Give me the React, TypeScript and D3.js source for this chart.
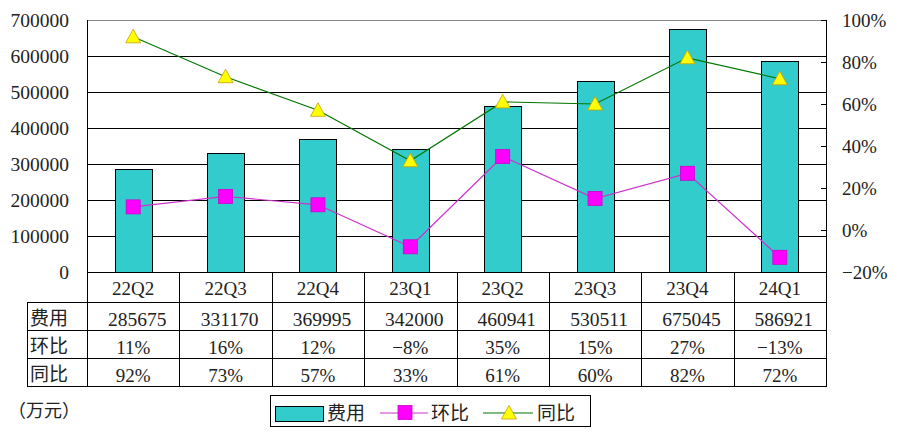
import React from "react";
import * as d3 from "d3";

const categories = ["22Q2", "22Q3", "22Q4", "23Q1", "23Q2", "23Q3", "23Q4", "24Q1"];
const costValues = [285675, 331170, 369995, 342000, 460941, 530511, 675045, 586921];
const qoqValues = [11, 16, 12, -8, 35, 15, 27, -13];
const yoyValues = [92, 73, 57, 33, 61, 60, 82, 72];
const leftTicks = [0, 100000, 200000, 300000, 400000, 500000, 600000, 700000];
const rightTicks = [-20, 0, 20, 40, 60, 80, 100];
const rowLabels = ["费用", "环比", "同比"];
const seriesNames = ["费用", "环比", "同比"];
const unitLabel = "（万元）";

const W = 902;
const H = 438;
const L = 87;
const R = 826;
const T = 20;
const B = 272;
const tableLeft = 27;
const rowYs = [272, 302, 330, 358, 386];

const FONT = "'Liberation Serif', 'Noto Sans CJK SC', serif";
const CJK = "'Noto Sans CJK SC', sans-serif";

const BAR = "#33CCCC";
const MAG = "#FF00FF";
const MAGLINE = "#CC33CC";
const GREEN = "#007700";
const YEL = "#FFFF00";

export default function App() {
  const x = d3.scaleBand<string>().domain(categories).range([L, R]).padding(0);
  const yL = d3.scaleLinear().domain([0, 700000]).range([B, T]);
  const yR = d3.scaleLinear().domain([-20, 100]).range([B, T]);
  const bw = x.bandwidth() * 0.4;
  const cx = (c: string) => (x(c) as number) + x.bandwidth() / 2;

  const qoqLine = d3
    .line<number>()
    .x((_, i) => cx(categories[i]))
    .y((d) => yR(d))(qoqValues) as string;
  const yoyLine = d3
    .line<number>()
    .x((_, i) => cx(categories[i]))
    .y((d) => yR(d))(yoyValues) as string;

  const tri = (px: number, py: number, s = 7.5) =>
    `M${px},${py - s} L${px + s},${py + s * 0.8} L${px - s},${py + s * 0.8} Z`;

  const fmtPct = (v: number) => (v < 0 ? "−" + Math.abs(v) : String(v)) + "%";

  return (
    <svg
      width={W}
      height={H}
      style={{ position: "absolute", left: 0, top: 0, background: "#fff" }}
    >
      {/* gridlines */}
      {leftTicks.map((t) => (
        <line
          key={"g" + t}
          x1={L}
          x2={R}
          y1={Math.round(yL(t)) + 0.5}
          y2={Math.round(yL(t)) + 0.5}
          stroke={t === 700000 ? "#888" : "#000"}
          strokeWidth={1}
        />
      ))}
      {/* left axis labels */}
      {leftTicks.map((t) => (
        <text
          key={"l" + t}
          x={69}
          y={yL(t)}
          dy="0.35em"
          textAnchor="end"
          fontFamily={FONT}
          fontSize={19.5}
          fill="#222"
        >
          {t}
        </text>
      ))}
      {/* bars */}
      {costValues.map((v, i) => (
        <rect
          key={"b" + i}
          x={Math.round(cx(categories[i]) - bw / 2) + 0.5}
          y={Math.round(yL(v)) + 0.5}
          width={Math.round(bw)}
          height={Math.round(yL(0) - yL(v))}
          fill={BAR}
          stroke="#000"
          strokeWidth={1}
        />
      ))}
      {/* axes lines */}
      <line x1={L + 0.5} x2={L + 0.5} y1={T} y2={rowYs[4]} stroke="#000" />
      <line x1={R + 0.5} x2={R + 0.5} y1={T} y2={rowYs[4]} stroke="#000" />
      {/* right axis ticks and labels */}
      {rightTicks.map((t) => (
        <g key={"r" + t}>
          <line
            x1={R - 5}
            x2={R}
            y1={Math.round(yR(t)) + 0.5}
            y2={Math.round(yR(t)) + 0.5}
            stroke="#000"
          />
          <text
            x={842}
            y={yR(t)}
            dy="0.35em"
            fontFamily={FONT}
            fontSize={19}
            fill="#222"
          >
            {fmtPct(t)}
          </text>
        </g>
      ))}
      {/* lines */}
      <path d={qoqLine} fill="none" stroke={MAGLINE} strokeWidth={1.2} />
      <path d={yoyLine} fill="none" stroke={GREEN} strokeWidth={1.2} />
      {qoqValues.map((v, i) => (
        <rect
          key={"q" + i}
          x={cx(categories[i]) - 7}
          y={yR(v) - 7}
          width={14}
          height={14}
          fill={MAG}
          stroke="#CC00CC"
          strokeWidth={0.8}
        />
      ))}
      {yoyValues.map((v, i) => (
        <path
          key={"y" + i}
          d={tri(cx(categories[i]), yR(v))}
          fill={YEL}
          stroke="#C8A000"
          strokeWidth={0.8}
        />
      ))}
      {/* table */}
      {rowYs.slice(1).map((ry) => (
        <line
          key={"h" + ry}
          x1={tableLeft}
          x2={R + 1}
          y1={ry + 0.5}
          y2={ry + 0.5}
          stroke="#000"
        />
      ))}
      <line x1={tableLeft + 0.5} x2={tableLeft + 0.5} y1={rowYs[1]} y2={rowYs[4] + 1} stroke="#000" />
      {categories.slice(1).map((c) => (
        <line
          key={"v" + c}
          x1={Math.round(x(c) as number) + 0.5}
          x2={Math.round(x(c) as number) + 0.5}
          y1={rowYs[0]}
          y2={rowYs[4]}
          stroke="#000"
        />
      ))}
      {categories.map((c) => (
        <text
          key={"c" + c}
          x={cx(c)}
          y={(rowYs[0] + rowYs[1]) / 2 + 1}
          dy="0.35em"
          textAnchor="middle"
          fontFamily={FONT}
          fontSize={19}
          fill="#222"
        >
          {c}
        </text>
      ))}
      {rowLabels.map((r, j) => (
        <text
          key={"rl" + r}
          x={30}
          y={(rowYs[j + 1] + rowYs[j + 2]) / 2 + 2}
          dy="0.35em"
          fontFamily={CJK}
          fontSize={19}
          fill="#222"
        >
          {r}
        </text>
      ))}
      {categories.map((c, i) => (
        <g key={"t" + c}>
          <text
            x={cx(c) + 4}
            y={(rowYs[1] + rowYs[2]) / 2 + 3}
            dy="0.35em"
            textAnchor="middle"
            fontFamily={FONT}
            fontSize={19.5}
            fill="#222"
          >
            {costValues[i]}
          </text>
          <text
            x={cx(c)}
            y={(rowYs[2] + rowYs[3]) / 2 + 3}
            dy="0.35em"
            textAnchor="middle"
            fontFamily={FONT}
            fontSize={19}
            fill="#222"
          >
            {fmtPct(qoqValues[i])}
          </text>
          <text
            x={cx(c)}
            y={(rowYs[3] + rowYs[4]) / 2 + 3}
            dy="0.35em"
            textAnchor="middle"
            fontFamily={FONT}
            fontSize={19}
            fill="#222"
          >
            {fmtPct(yoyValues[i])}
          </text>
        </g>
      ))}
      {/* unit label */}
      <text x={8} y={411} dy="0.35em" fontFamily={CJK} fontSize={18} fill="#222">
        {unitLabel}
      </text>
      {/* legend */}
      <rect x={270.5} y={395.5} width={320} height={31} fill="#fff" stroke="#000" />
      <rect x={275.5} y={406.5} width={48} height={15} fill={BAR} stroke="#000" />
      <text x={327} y={413} dy="0.35em" fontFamily={CJK} fontSize={19} fill="#222">
        {seriesNames[0]}
      </text>
      <line x1={380} x2={428} y1={413} y2={413} stroke={MAGLINE} strokeWidth={1.2} />
      <rect x={398} y={405.5} width={14} height={14} fill={MAG} stroke="#CC00CC" strokeWidth={0.8} />
      <text x={431} y={413} dy="0.35em" fontFamily={CJK} fontSize={19} fill="#222">
        {seriesNames[1]}
      </text>
      <line x1={483} x2={533} y1={413} y2={413} stroke={GREEN} strokeWidth={1.2} />
      <path d={tri(509, 413)} fill={YEL} stroke="#C8A000" strokeWidth={0.8} />
      <text x={537} y={413} dy="0.35em" fontFamily={CJK} fontSize={19} fill="#222">
        {seriesNames[2]}
      </text>
    </svg>
  );
}
